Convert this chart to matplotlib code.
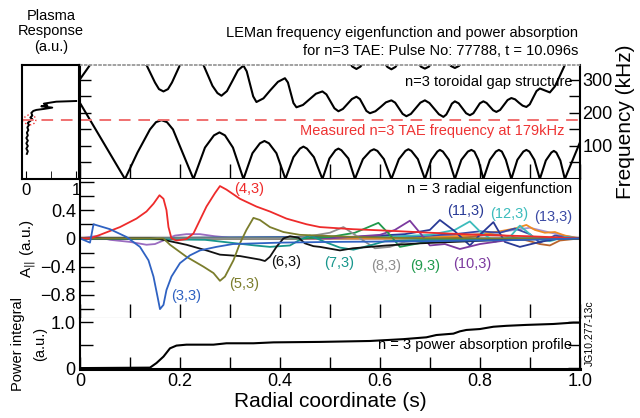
import numpy as np
import matplotlib.pyplot as plt
from matplotlib.patches import Ellipse

plt.rcParams['font.family'] = ['Liberation Sans', 'DejaVu Sans']

# ---- continuum (gap structure), s vs frequency in kHz ----
lower_s = [0.0, 0.09, 0.115, 0.14, 0.152, 0.163, 0.174, 0.186, 0.227,
           0.25, 0.268, 0.279, 0.29, 0.306, 0.327,
           0.345, 0.36, 0.369, 0.378, 0.393, 0.411,
           0.427, 0.44, 0.447, 0.454, 0.468, 0.485,
           0.499, 0.511, 0.517, 0.523, 0.537, 0.55,
           0.566, 0.581, 0.588, 0.595, 0.608, 0.623,
           0.638, 0.651, 0.657, 0.663, 0.676, 0.69,
           0.703, 0.715, 0.72, 0.726, 0.738, 0.75,
           0.763, 0.776, 0.783, 0.789, 0.797, 0.807,
           0.82, 0.832, 0.838, 0.844, 0.852, 0.863,
           0.875, 0.887, 0.893, 0.899, 0.909, 0.92,
           0.932, 0.943, 0.948, 0.953, 0.961, 0.97, 0.985, 1.0]
lower_f = [230, 0, 80, 150, 172, 178, 172, 150, 0,
           95, 132, 141, 132, 95, 0,
           78, 108, 115, 108, 78, 0,
           66, 92, 98, 92, 66, 0,
           62, 87, 92, 87, 62, 0,
           60, 85, 90, 85, 60, 0,
           60, 85, 90, 85, 60, 0,
           58, 83, 88, 83, 58, 0,
           58, 83, 88, 83, 58, 0,
           58, 83, 88, 83, 58, 0,
           58, 83, 88, 83, 58, 0,
           56, 80, 85, 80, 56, 0, 55, 110]

upper_s = [0.0, 0.02, 0.04, 0.10, 0.133, 0.15, 0.158, 0.167, 0.176, 0.184, 0.2, 0.23,
           0.247, 0.265, 0.275, 0.283, 0.294, 0.305, 0.316, 0.327,
           0.3335, 0.34, 0.3465, 0.353, 0.367, 0.381, 0.396, 0.41,
           0.416, 0.4215, 0.427, 0.433, 0.446, 0.459, 0.472, 0.485,
           0.493, 0.501, 0.509, 0.517, 0.526, 0.535, 0.544, 0.553,
           0.56, 0.5665, 0.573, 0.58, 0.591, 0.6015, 0.612, 0.623,
           0.6305, 0.638, 0.6455, 0.653, 0.662, 0.6715, 0.681, 0.69,
           0.699, 0.7085, 0.718, 0.727, 0.7328, 0.7385, 0.744, 0.75,
           0.7575, 0.765, 0.7725, 0.78, 0.787, 0.7935, 0.8, 0.807,
           0.8135, 0.82, 0.8265, 0.833, 0.8405, 0.848, 0.8555, 0.863,
           0.8705, 0.878, 0.8855, 0.893, 0.8998, 0.9065, 0.9133, 0.92,
           0.93, 0.94, 0.95, 0.96, 0.97, 0.99]
upper_f = [302, 345, 380, 420, 345, 292, 272, 265, 272, 292, 345, 420,
           345, 282, 260, 252, 266, 297, 329, 343,
           326, 288, 250, 233, 244, 269, 294, 305,
           292, 261, 230, 217, 224, 241, 258, 265,
           256, 235, 214, 205, 212, 227, 242, 249,
           242, 224, 206, 199, 205, 218, 232, 238,
           231, 214, 197, 190, 197, 214, 231, 238,
           230, 213, 196, 188, 195, 211, 228, 235,
           229, 214, 199, 193, 199, 214, 229, 235,
           230, 219, 208, 203, 209, 224, 239, 245,
           241, 231, 222, 218, 226, 246, 266, 274,
           268, 262, 280, 312, 345, 420]

top_s = [0.535, 0.545, 0.553, 0.561, 0.571, 0.605, 0.615, 0.623, 0.631, 0.641,
         0.672, 0.682, 0.69, 0.698, 0.708, 0.732, 0.742, 0.75, 0.758, 0.768]
top_f = [360, 340, 333, 340, 360, 360, 339, 332, 339, 360,
         360, 340, 334, 340, 360, 360, 342, 336, 342, 360]

tae_freq = 179

# ---- plasma response (left panel) ----
resp_x = [0.01, 0.03, 0.0, 0.03, 0.0, 0.03, 0.0, 0.03, 0.01, 0.04, 0.02, 0.05, 0.03,
          0.08, 0.12, 0.08, 0.12, 0.10, 0.14, 0.20, 0.35, 0.52, 0.30, 0.42, 0.35,
          0.60, 1.0]
resp_f = [76, 84, 92, 100, 108, 116, 124, 132, 140, 148, 156, 163, 170,
          176, 181, 186, 192, 200, 206, 209, 212, 216, 220, 223, 228,
          234, 236]

# ---- n=3 radial eigenfunctions A_par(s), one pair of lists per (m,n) ----
m2_s = [0.0, 0.03, 0.06, 0.1, 0.133, 0.15, 0.17, 0.19, 0.213, 0.24, 0.27, 0.3, 0.4, 1.0]
m2_a = [0.0, 0.03, -0.02, -0.05, -0.09, -0.08, -0.02, 0.04, 0.06, 0.06, 0.03, 0.01, 0.0,
        0.0]

m3_s = [0.0, 0.02, 0.027, 0.06, 0.093, 0.12, 0.137, 0.147, 0.155, 0.16, 0.167, 0.173,
        0.183, 0.2, 0.22, 0.24, 0.273, 0.306, 0.4, 0.5, 0.7, 0.9, 1.0]
m3_a = [0.0, -0.06, 0.2, 0.13, 0.02, -0.12, -0.31, -0.54, -0.82, -1.0, -0.94, -0.73,
        -0.54, -0.35, -0.24, -0.17, -0.12, -0.08, -0.06, -0.05, -0.04, -0.02, 0.0]

m4_s = [0.0, 0.02, 0.04, 0.08, 0.113, 0.133, 0.147, 0.159, 0.167, 0.173, 0.177, 0.183,
        0.193, 0.213, 0.227, 0.24, 0.253, 0.27, 0.28, 0.293, 0.32, 0.353, 0.38, 0.413,
        0.453, 0.48, 0.546, 0.613, 0.7, 0.8, 0.9, 1.0]
m4_a = [0.0, 0.0, 0.05, 0.16, 0.28, 0.38, 0.49, 0.61, 0.56, 0.40, 0.16, 0.0,
        -0.03, -0.01, 0.07, 0.26, 0.45, 0.64, 0.74, 0.69, 0.56, 0.45, 0.38, 0.28,
        0.20, 0.16, 0.13, 0.11, 0.08, 0.05, 0.03, 0.0]

m5_s = [0.0, 0.167, 0.18, 0.213, 0.247, 0.267, 0.28, 0.29, 0.307, 0.32, 0.333, 0.347,
        0.36, 0.38, 0.407, 0.44, 0.55, 0.7, 1.0]
m5_a = [0.0, 0.0, -0.09, -0.26, -0.40, -0.49, -0.60, -0.54, -0.31, -0.07, 0.12, 0.29,
        0.26, 0.16, 0.09, 0.05, 0.02, 0.0, 0.0]

m6_s = [0.0, 0.14, 0.16, 0.213, 0.253, 0.28, 0.32, 0.36, 0.37, 0.38, 0.393, 0.407, 0.42,
        0.437, 0.45, 0.467, 0.48, 0.52, 0.546, 0.58, 0.613, 0.68, 0.813, 0.946, 1.0]
m6_a = [0.0, 0.0, -0.01, -0.09, -0.17, -0.23, -0.25, -0.30, -0.32, -0.26, -0.12, 0.0,
        0.03, 0.01, -0.07, -0.11, -0.12, -0.17, -0.14, -0.12, -0.10, -0.07, -0.03, 0.0,
        0.0]

m7_s = [0.0, 0.25, 0.3, 0.35, 0.38, 0.42, 0.44, 0.46, 0.49, 0.52, 0.547, 0.58, 0.61,
        0.65, 0.7, 0.8, 0.9, 1.0]
m7_a = [0.0, -0.02, -0.06, -0.1, -0.12, -0.1, -0.02, 0.04, -0.05, -0.13, -0.16, -0.1,
        -0.04, -0.03, -0.02, -0.01, 0.0, 0.0]

m8_s = [0.0, 0.4, 0.45, 0.5, 0.527, 0.55, 0.59, 0.62, 0.65, 0.7, 0.8, 0.9, 1.0]
m8_a = [0.0, 0.0, 0.02, 0.08, 0.16, 0.05, -0.14, -0.12, -0.05, -0.02, -0.01, 0.0, 0.0]

m9_s = [0.0, 0.45, 0.5, 0.55, 0.597, 0.62, 0.64, 0.67, 0.7, 0.75, 0.8, 0.9, 1.0]
m9_a = [0.0, 0.0, 0.02, 0.08, 0.22, 0.05, -0.12, -0.08, -0.04, -0.03, -0.02, -0.01, 0.0]

m10_s = [0.0, 0.5, 0.6, 0.63, 0.66, 0.68, 0.7, 0.73, 0.76, 0.8, 0.85, 0.9, 1.0]
m10_a = [0.0, 0.0, 0.05, 0.12, 0.25, 0.08, -0.1, -0.08, -0.15, -0.08, -0.03, -0.01, 0.0]

m11_s = [0.0, 0.55, 0.65, 0.7, 0.72, 0.75, 0.78, 0.8, 0.827, 0.85, 0.88, 0.92, 0.96, 1.0]
m11_a = [0.0, 0.02, 0.06, 0.12, 0.26, 0.1, -0.1, 0.05, 0.23, -0.05, -0.12, -0.05, 0.0,
         0.0]

m12_s = [0.0, 0.6, 0.7, 0.75, 0.78, 0.8, 0.83, 0.86, 0.88, 0.91, 0.94, 0.97, 1.0]
m12_a = [0.0, 0.02, 0.05, 0.12, 0.24, 0.1, -0.05, 0.02, 0.18, 0.0, -0.04, 0.02, 0.0]

m13_s = [0.0, 0.65, 0.75, 0.8, 0.84, 0.87, 0.9, 0.92, 0.95, 0.97, 1.0]
m13_a = [0.0, 0.02, 0.06, 0.1, 0.08, 0.14, 0.06, -0.06, 0.04, 0.02, 0.0]

m14_s = [0.0, 0.65, 0.75, 0.8, 0.84, 0.87, 0.893, 0.91, 0.93, 0.95, 0.97, 1.0]
m14_a = [0.0, 0.0, 0.03, 0.06, 0.1, 0.14, 0.19, 0.12, 0.08, 0.09, 0.04, 0.0]

m15_s = [0.0, 0.7, 0.78, 0.82, 0.86, 0.9, 0.92, 0.94, 0.96, 1.0]
m15_a = [0.0, 0.0, 0.02, 0.06, 0.03, -0.04, -0.08, -0.1, -0.03, 0.0]

m16_s = [0.0, 0.7, 0.8, 0.85, 0.88, 0.9, 0.93, 0.96, 1.0]
m16_a = [0.0, 0.02, 0.06, 0.1, 0.13, 0.15, 0.1, 0.05, 0.0]

# ---- power absorption ----
pow_s = [0.0, 0.14, 0.153, 0.167, 0.18, 0.193, 0.213, 0.267, 0.293, 0.347, 0.387, 0.48,
         0.58, 0.647, 0.693, 0.713, 0.747, 0.76, 0.773, 0.8, 0.827, 0.853, 0.893, 0.947,
         0.987, 1.0]
pow_p = [0.0, 0.01, 0.11, 0.25, 0.43, 0.49, 0.51, 0.51, 0.54, 0.54, 0.56, 0.57,
         0.59, 0.63, 0.67, 0.72, 0.75, 0.80, 0.83, 0.85, 0.90, 0.92, 0.94, 0.96,
         0.99, 0.99]

mode_colors = {
    '2': '#9a6cc0', '3': '#2f62c2', '4': '#ee2b2b', '5': '#7b7d2c', '6': '#111111',
    '7': '#17968c', '8': '#8e8e8e', '9': '#1f9a4c', '10': '#7c3a9f', '11': '#293a96',
    '12': '#3cbcbc', '13': '#3b4aa5', '14': '#f08a24', '15': '#b8642c', '16': '#a394d4',
}

fig = plt.figure(figsize=(6.4, 4.18), dpi=100)
ax_top = fig.add_axes([0.125, 0.5718, 0.781, 0.2727])
ax_mid = fig.add_axes([0.125, 0.2392, 0.781, 0.3326])
ax_bot = fig.add_axes([0.125, 0.1172, 0.781, 0.122])
ax_left = fig.add_axes([0.0344, 0.5718, 0.0898, 0.2727])

# top panel: gap structure
for xs, ys in [(lower_s, lower_f), (upper_s, upper_f), (top_s, top_f)]:
    ax_top.plot(xs, ys, color='black', lw=1.5)
ax_top.axhline(tae_freq, color='#f07070', lw=1.4, dashes=(6, 4))
ax_top.set_xlim(0, 1)
ax_top.set_ylim(0, 345)
ax_top.set_xticks(np.arange(0, 1.01, 0.1))
ax_top.set_yticks([100, 200, 300])
ax_top.set_yticks([50, 150, 250], minor=True)
ax_top.tick_params(which='both', direction='in', left=True, right=True, top=False,
                   labelleft=False, labelright=True, labelbottom=False, length=8,
                   width=1, labelsize=13, pad=2)
ax_top.tick_params(axis='x', length=11)
ax_top.spines['top'].set_color('#9a9a9a')
ax_top.spines['top'].set_linestyle(':')
ax_top.spines['top'].set_linewidth(1.3)
for sp in ['left', 'right', 'bottom']:
    ax_top.spines[sp].set_linewidth(1.5)
ax_top.yaxis.set_label_position('right')
ax_top.set_ylabel('Frequency (kHz)', fontsize=15, labelpad=2)
ax_top.text(0.985, 0.85, 'n=3 toroidal gap structure', transform=ax_top.transAxes,
            ha='right', va='center', fontsize=10.5)
ax_top.text(0.97, 0.42, 'Measured n=3 TAE frequency at 179kHz',
            transform=ax_top.transAxes, ha='right', va='center', fontsize=10.5,
            color='#ee3333')

# left panel: plasma response
ax_left.plot(resp_x, resp_f, color='black', lw=1.4)
ax_left.axhline(tae_freq, color='#f07070', lw=1.4, dashes=(6, 4))
ax_left.add_patch(Ellipse((0.07, tae_freq), 0.24, 30, fill=False, ec='#ee3333',
                          lw=1, ls=':'))
ax_left.set_xlim(-0.087, 1.066)
ax_left.set_ylim(0, 345)
ax_left.set_xticks([0, 1])
ax_left.set_xticklabels(['0', '1'])
ax_left.set_xticks([0.5], minor=True)
ax_left.set_yticks([])
ax_left.tick_params(which='both', direction='in', length=6, labelsize=12, pad=3)
for sp in ax_left.spines.values():
    sp.set_linewidth(1.5)
ax_left.set_title('Plasma\nResponse\n(a.u.)', fontsize=10.5, linespacing=1.15, pad=10)

# middle panel: eigenfunctions
modes = [('2', m2_s, m2_a), ('16', m16_s, m16_a), ('15', m15_s, m15_a),
         ('14', m14_s, m14_a), ('13', m13_s, m13_a), ('12', m12_s, m12_a),
         ('11', m11_s, m11_a), ('10', m10_s, m10_a), ('9', m9_s, m9_a),
         ('8', m8_s, m8_a), ('7', m7_s, m7_a), ('6', m6_s, m6_a),
         ('5', m5_s, m5_a), ('4', m4_s, m4_a), ('3', m3_s, m3_a)]
ax_mid.axhline(0, color='#cfcfcf', lw=3, zorder=1)
for m, xs, ys in modes:
    ax_mid.plot(xs, ys, color=mode_colors[m], lw=1.3, zorder=2)
ax_mid.set_xlim(0, 1)
ax_mid.set_ylim(-1.126, 0.84)
ax_mid.set_xticks(np.arange(0, 1.01, 0.1))
ax_mid.set_yticks([-0.8, -0.4, 0, 0.4])
ax_mid.set_yticklabels(['\u22120.8', '\u22120.4', '0', '0.4'])
ax_mid.set_yticks([-1.0, -0.6, -0.2, 0.2, 0.6, 0.8], minor=True)
ax_mid.tick_params(which='both', direction='in', length=10, width=1, labelsize=13,
                   labelbottom=False, top=False, pad=3)
ax_mid.spines['top'].set_visible(False)
ax_mid.spines['bottom'].set_color('#888888')
ax_mid.spines['left'].set_linewidth(1.5)
ax_mid.spines['right'].set_linewidth(1.5)
ax_mid.set_ylabel('A$_{||}$ (a.u.)', fontsize=11, labelpad=2)
ax_mid.text(0.985, 0.925, 'n = 3 radial eigenfunction', transform=ax_mid.transAxes,
            ha='right', va='center', fontsize=10.5)
labels = [('3', 0.212, -0.81), ('4', 0.338, 0.70), ('5', 0.328, -0.65),
          ('6', 0.412, -0.34), ('7', 0.518, -0.35), ('8', 0.612, -0.39),
          ('9', 0.69, -0.39), ('10', 0.784, -0.36), ('11', 0.772, 0.385),
          ('12', 0.858, 0.34), ('13', 0.946, 0.30)]
for m, lx, ly in labels:
    ax_mid.text(lx, ly, '(%s,3)' % m, color=mode_colors[m], fontsize=10.5,
                ha='center', va='center')

# bottom panel: power absorption
ax_bot.plot(pow_s, pow_p, color='black', lw=1.5)
ax_bot.set_xlim(0, 1)
ax_bot.set_ylim(-0.02, 1.09)
ax_bot.set_xticks(np.arange(0, 1.01, 0.2))
ax_bot.set_xticklabels(['0', '0.2', '0.4', '0.6', '0.8', '1.0'])
ax_bot.set_xticks(np.arange(0.1, 1.0, 0.2), minor=True)
ax_bot.set_yticks([0, 1.0])
ax_bot.set_yticklabels(['0', '1.0'])
ax_bot.set_yticks([0.5], minor=True)
ax_bot.tick_params(which='both', direction='in', length=9, width=1, labelsize=13,
                   right=True, top=False, pad=3)
ax_bot.spines['top'].set_visible(False)
ax_bot.spines['bottom'].set_linewidth(2.2)
ax_bot.spines['left'].set_linewidth(1.5)
ax_bot.spines['right'].set_linewidth(1.5)
ax_bot.set_xlabel('Radial coordinate (s)', fontsize=15, labelpad=1)
ax_bot.text(0.985, 0.47, 'n = 3 power absorption profile', transform=ax_bot.transAxes,
            ha='right', va='center', fontsize=10.5)

# two-line y label of the power panel, one text per line
fig.text(0.028, 0.178, 'Power integral', rotation=90, ha='center', va='center',
         fontsize=10.5)
fig.text(0.062, 0.178, '(a.u.)', rotation=90, ha='center', va='center',
         fontsize=10.5)

fig.text(0.903, 0.921, 'LEMan frequency eigenfunction and power absorption',
         ha='right', va='center', fontsize=10.5)
fig.text(0.903, 0.878, 'for n=3 TAE: Pulse No: 77788, t = 10.096s',
         ha='right', va='center', fontsize=10.5)
fig.text(0.921, 0.203, 'JG10.277-13c', rotation=90, ha='center', va='center',
         fontsize=7.5)

fig.savefig('out.png', dpi=100)
